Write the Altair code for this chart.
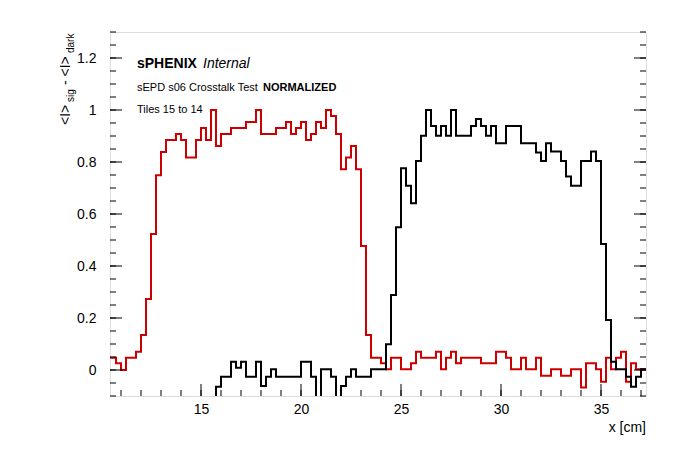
import altair as alt
import pandas as pd
import numpy as np

x_start = 10.25
bw = 0.25
red = [.047,.047,.026,0,.047,.047,.07,.135,.273,.523,.749,.838,.885,.885,.908,.885,.817,.817,.885,.931,.885,1.0,
       .862,.908,.908,.931,.931,.931,.954,.954,1.0,.908,.908,.908,.931,.931,.954,.908,.931,.954,.885,.908,.954,.931,1.0,.977,.908,
       .772,.817,.862,.772,.477,.135,
       .047,.047,.026,.003,.047,.047,.003,.003,.026,.07,.047,.047,.047,.07,.003,.047,.07,.026,.047,.047,.047,.047,
       .026,.026,.026,.07,.07,.047,.003,.003,.047,.003,.003,.047,-.022,-.022,.003,.003,-.022,-.022,.003,.003,-.067,
       .026,.026,.003,-.045,.047,.003,.047,.07,-.045,.026,.003,.003]
black = [-.2]*22 + [-.064,-.026,-.026,.032,.009,.032,-.026,-.026,.032,-.062,-.026,.003,-.026,-.026,-.026,-.026,-.026,
         .032,.032,-.026,-.2,.003,.003,-.026,-.2,-.062,-.026,.003,-.026,-.026,-.026,
         .003,.003,.003,.099,.288,.549,.776,.709,.641,.804,.901,1.0,.938,.901,.938,.901,1.0,.901,.901,.901,.938,.965,.938,.901,.938,
         .872,.872,.938,.938,.938,.872,.872,.872,.837,.804,.872,.84,.84,.804,.744,.709,.709,.804,.804,.84,.804,.485,.192,.032,
         .003,.003,-.026,-.064,-.026,.003]

def series(vals, name):
    xs = [x_start + i*bw for i in range(len(vals))] + [x_start + len(vals)*bw]
    ys = list(vals) + [vals[-1]]
    return pd.DataFrame({"x": xs, "y": ys, "s": name})

df = pd.concat([series(red, "red"), series(black, "black")])

W, H = 536, 364
xs = alt.Scale(domain=[10.45, 37.25], nice=False, zero=False)
ys = alt.Scale(domain=[-0.1, 1.3], nice=False, zero=False)
FONT = "Liberation Sans"

lines = alt.Chart(df).mark_line(interpolate="step-after", strokeWidth=2, clip=True).encode(
    x=alt.X("x:Q", scale=xs, axis=alt.Axis(values=[15,20,25,30,35], title=None, ticks=False, domain=False,
            labelFont=FONT, labelFontSize=14, labelColor="black", grid=False, labelPadding=6)),
    y=alt.Y("y:Q", scale=ys, axis=alt.Axis(values=[0,0.2,0.4,0.6,0.8,1.0,1.2], title=None, ticks=False, domain=False,
            labelFont=FONT, labelFontSize=14, labelColor="black", grid=False, labelPadding=14,
            labelExpr="datum.value == 0 ? '0' : format(datum.value, '.1f') == '1.0' ? '1' : format(datum.value, '.1f')")),
    color=alt.Color("s:N", scale=alt.Scale(domain=["red", "black"], range=["#cc0000", "black"]), legend=None),
    detail="s:N",
)

ymaj = pd.DataFrame({"v": [0,0.2,0.4,0.6,0.8,1.0,1.2]})
ymin = pd.DataFrame({"v": [round(-0.1 + 0.05*i, 2) for i in range(29)]})
xmaj = pd.DataFrame({"v": [15,20,25,30,35]})
xmin = pd.DataFrame({"v": list(range(11, 38))})

def yt(d, L):
    a = alt.Chart(d).mark_rule(color="black").encode(y=alt.Y("v:Q", scale=ys), x=alt.value(0), x2=alt.value(L))
    b = alt.Chart(d).mark_rule(color="black").encode(y=alt.Y("v:Q", scale=ys), x=alt.value(W - L), x2=alt.value(W))
    return a + b

def xt(d, L):
    return alt.Chart(d).mark_rule(color="black").encode(x=alt.X("v:Q", scale=xs), y=alt.value(H), y2=alt.value(H - L))

one = pd.DataFrame({"a": [0]})
def txt(t, x, y, size, weight="normal", style="normal", align="left", angle=0, baseline="alphabetic"):
    return alt.Chart(one).mark_text(text=t, font=FONT, fontSize=size, fontWeight=weight, fontStyle=style,
                                    align=align, angle=angle, baseline=baseline, color="black").encode(
        x=alt.value(x), y=alt.value(y))

texts = [
    txt("sPHENIX", 27, 36, 14, weight="bold"),
    txt("Internal", 93, 36, 14, style="italic"),
    txt("sEPD s06 Crosstalk Test", 27, 59, 11),
    txt("NORMALIZED", 153, 59, 11, weight="bold"),
    txt("Tiles 15 to 14", 27, 81, 11),
    txt("x [cm]", W, H + 36, 14, align="right"),
    txt("<I>", -40, 93, 14, angle=270),
    txt("sig", -36, 70, 10, angle=270),
    txt("- <I>", -40, 53, 14, angle=270),
    txt("dark", -36, 21, 10, angle=270),
]

chart = alt.layer(lines, yt(ymaj, 12), yt(ymin, 6), xt(xmaj, 12), xt(xmin, 6), *texts).properties(
    width=W, height=H,
    autosize=alt.AutoSizeParams(type="none"),
    padding={"left": 102, "top": 24, "right": 40, "bottom": 60},
).configure_view(stroke="black", strokeWidth=1).configure(background="white")

chart.save("out.html", embed_options={"renderer": "svg", "actions": False})
